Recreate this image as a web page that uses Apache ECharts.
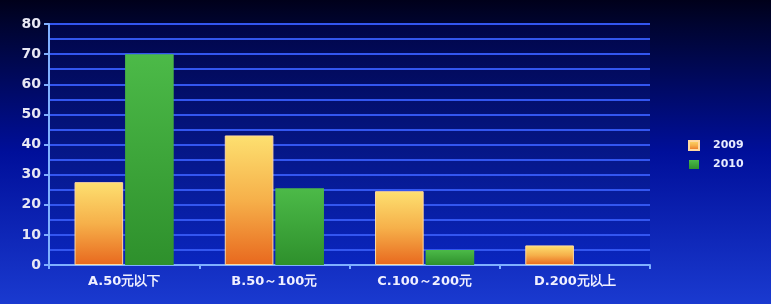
<!DOCTYPE html>
<html><head><meta charset="utf-8">
<script src="https://cdn.jsdelivr.net/npm/echarts@6/dist/echarts.min.js"></script>
<style>html,body{margin:0;padding:0;background:#000;}#c{width:771px;height:304px;}</style>
</head><body><div id="c"></div>
<script>
const categories = ['A.50元以下', 'B.50～100元', 'C.100～200元', 'D.200元以上'];
const series2009 = [27.5, 43, 24.5, 6.5];
const series2010 = [70, 25.5, 5, 0];
const yTicks = [0, 80, 10];

const chart = echarts.init(document.getElementById('c'));
chart.setOption({
  backgroundColor: new echarts.graphic.LinearGradient(0, 0, 0, 1, [
    {offset: 0, color: '#00001a'},
    {offset: 0.08, color: '#000430'},
    {offset: 0.5, color: '#000f9a'},
    {offset: 1, color: '#1a3ad0'}
  ]),
  animation: false,
  grid: {left: 49, right: 121, top: 24, bottom: 39, show: true, borderWidth: 0,
    backgroundColor: new echarts.graphic.LinearGradient(0, 0, 0, 1, [
      {offset: 0, color: '#000548'},
      {offset: 1, color: '#0a26c0'}
    ])},
  legend: {
    orient: 'vertical', left: 683, top: 135, itemWidth: 10, itemHeight: 9, itemGap: 8,
    icon: 'rect',
    textStyle: {color: '#e8ecff', fontWeight: 'bold', fontSize: 11, fontFamily: 'DejaVu Sans', padding: [0, 0, 0, 9]},
    data: ['2009', '2010']
  },
  xAxis: {
    type: 'category', data: categories,
    axisLine: {lineStyle: {color: '#7fb0ff', width: 2}},
    axisTick: {show: true, length: 4, lineStyle: {color: '#7fb0ff', width: 2}},
    axisLabel: {color: '#f0f0ff', fontWeight: 'bold', fontSize: 13, margin: 10, fontFamily: 'DejaVu Sans'}
  },
  yAxis: {
    type: 'value', min: yTicks[0], max: yTicks[1], interval: yTicks[2],
    axisLine: {show: true, lineStyle: {color: '#7fb0ff', width: 2}},
    axisTick: {show: true, length: 5, lineStyle: {color: '#7fb0ff', width: 2}},
    axisLabel: {color: '#e8e8f4', fontWeight: 'bold', fontSize: 14, margin: 8, fontFamily: 'DejaVu Sans'},
    splitLine: {show: true, lineStyle: {color: '#3356f0', width: 2}},
    minorTick: {show: false, splitNumber: 2},
    minorSplitLine: {show: true, lineStyle: {color: '#3356f0', width: 2}}
  },
  series: [
    {name: '2009', type: 'bar', data: series2009, barGap: '4%', barCategoryGap: '34%',
      itemStyle: {borderColor: '#ffd8a0', borderWidth: 1,
        color: new echarts.graphic.LinearGradient(0, 0, 0, 1, [
          {offset: 0, color: '#fde070'}, {offset: 0.5, color: '#f6b04a'}, {offset: 1, color: '#e8681e'}])}},
    {name: '2010', type: 'bar', data: series2010,
      itemStyle: {borderWidth: 0,
        color: new echarts.graphic.LinearGradient(0, 0, 0, 1, [
          {offset: 0, color: '#4cba48'}, {offset: 1, color: '#2e902c'}])}}
  ]
});
</script></body></html>
